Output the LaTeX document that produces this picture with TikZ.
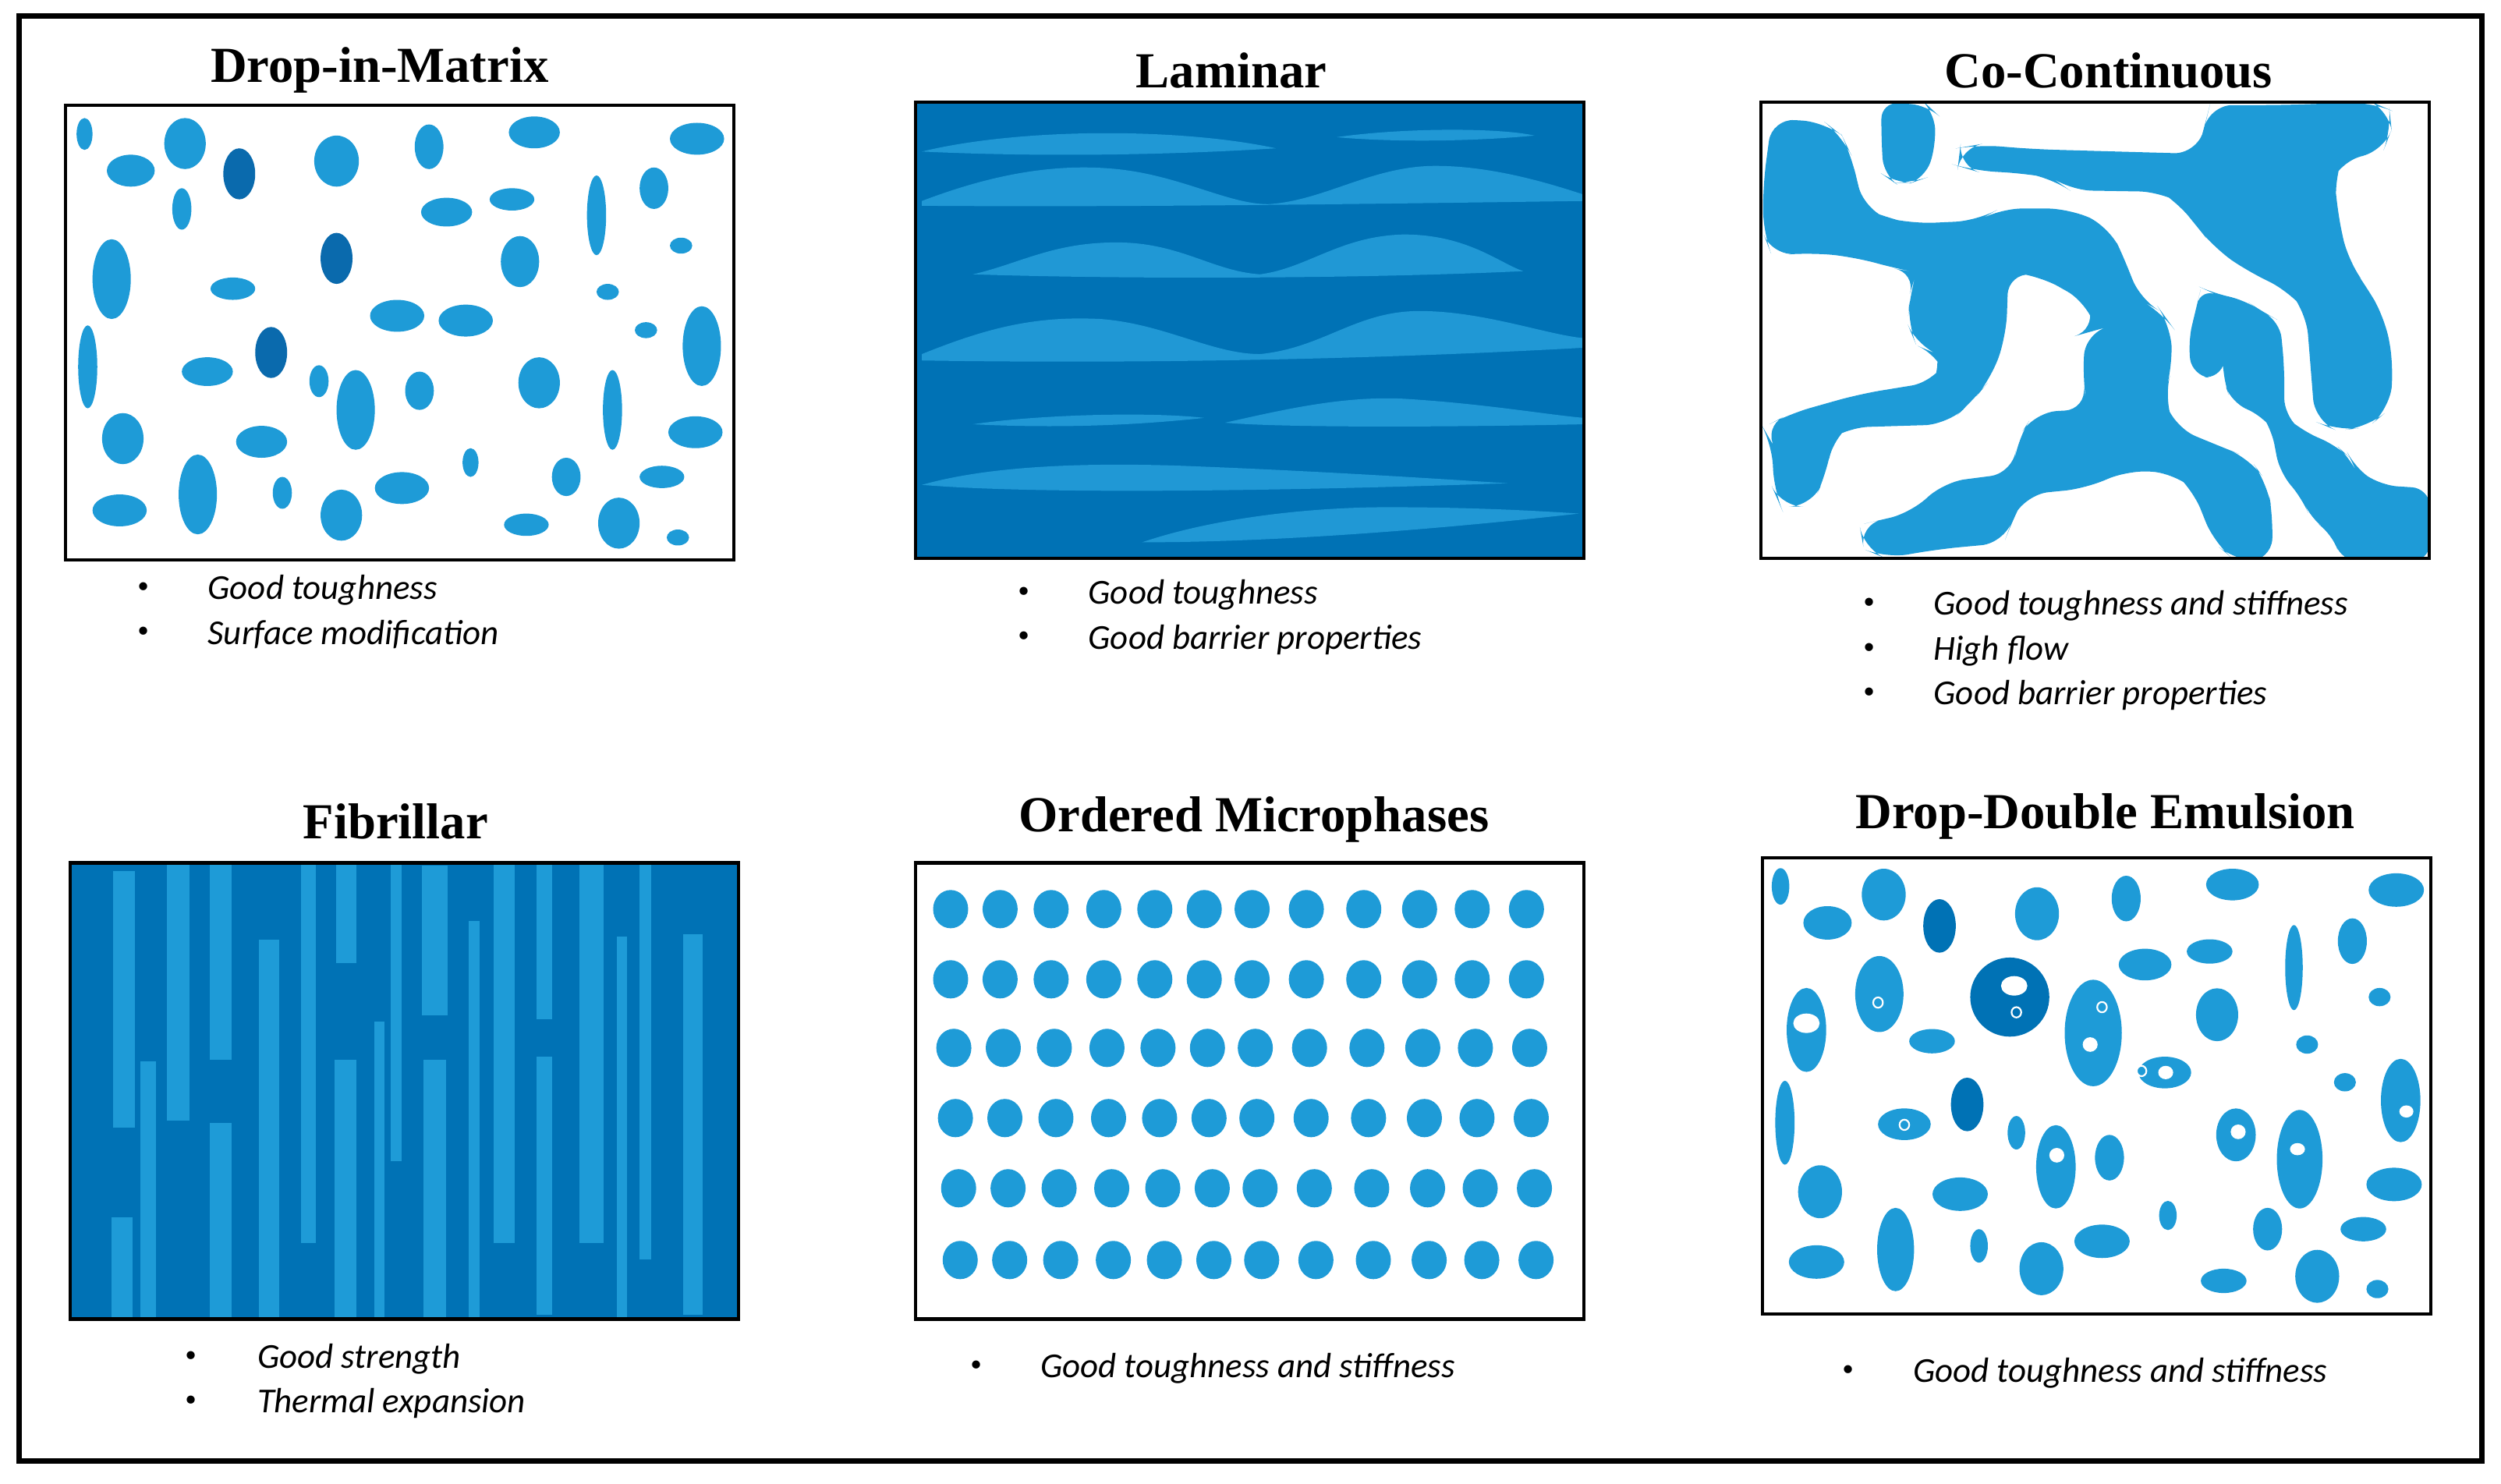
\documentclass[tikz,border=0pt]{standalone}
\usepackage{fontspec}
\setmainfont{Liberation Serif}
\newfontfamily\bulletfont{Carlito}
\definecolor{lb}{HTML}{1E9BD7}
\definecolor{db}{HTML}{0A6AAD}
\definecolor{bg}{HTML}{0072B5}
\definecolor{lam}{HTML}{2098D5}
\begin{document}
\begin{tikzpicture}[x=0.02cm,y=-0.02cm,
  title/.style={font=\fontsize{18}{21}\selectfont\bfseries},
  btxt/.style={font=\bulletfont\fontsize{12.5}{15}\selectfont\itshape,anchor=west,inner sep=0},
  bul/.style={font=\fontsize{12}{14}\selectfont,inner sep=0},
  panel/.style={draw=black,line width=0.04cm},
  drop/.style={fill=lb,draw=lb!85!black,line width=0.2pt},
  ddrop/.style={fill=db,draw=db},
  ring/.style={draw=white,line width=0.7pt,fill=lb},
  hole/.style={fill=white}]
\useasboundingbox (0,0) rectangle (1568,930);
\draw[line width=0.06cm] (12,10) rectangle (1556,916);

% ---------- Drop-in-Matrix
\node[title] (t1) at (238,44) {Drop-in-Matrix};
\foreach \x/\y/\a/\b in {53/84/5/10,82/107/15/10,116/90/13/16,211/101/14/16,269/92/9/14,335/83/16/10,437/87/17/10,114/131/6/13,280/133/16/9,321/125/14/7,374/135/6/25,410/118/9/13,427/154/7/5,70/175/12/25,146/181/14/7,326/164/12/16,381/183/7/5,249/198/17/10,292/201/17/10,405/207/7/5,440/217/12/25,55/230/6/26,130/233/16/9,200/239/6/10,223/257/12/25,263/245/9/12,338/240/13/16,384/257/6/25,77/275/13/16,164/277/16/10,436/271/17/10,295/290/5/9,355/299/9/12,124/310/12/25,177/309/6/10,252/306/17/10,415/299/14/7,75/320/17/10,214/323/13/16,330/329/14/7,388/328/13/16,425/337/7/5}
  \fill[lb] (\x,\y) ellipse [x radius=\a,y radius=\b];
\foreach \x/\y/\a/\b in {150/109/10/16,211/162/10/16,170/221/10/16}
  \fill[db] (\x,\y) ellipse [x radius=\a,y radius=\b];
\draw[panel] (41,66) rectangle (460,351);
\node[bul] (b11) at (90,370) {\textbullet};
\node[btxt] (x11) at (130,370) {Good toughness};
\node[bul] (b12) at (90,398) {\textbullet};
\node[btxt] (x12) at (130,398) {Surface modification};

% ---------- Laminar
\node[title] (t2) at (772,44) {Laminar};
\fill[bg] (574,64) rectangle (993,350);
\begin{scope}
\clip (574,64) rectangle (993,350);
\fill[lam] (578,95) .. controls (640,80) and (740,80) .. (800,93) .. controls (720,98) and (640,98) .. cycle;
\fill[lam] (838,86) .. controls (880,80) and (940,80) .. (962,85) .. controls (920,89) and (870,89) .. cycle;
\fill[lam] (578,126) .. controls (620,110) and (660,102) .. (700,106) .. controls (740,110) and (770,128) .. (795,128) .. controls (830,126) and (860,104) .. (900,104) .. controls (940,104) and (980,118) .. (993,122) -- (993,126) .. controls (850,128) and (700,130) .. (578,129) -- cycle;
\fill[lam] (610,172) .. controls (640,165) and (660,152) .. (700,152) .. controls (740,152) and (760,170) .. (790,172) .. controls (820,168) and (840,148) .. (880,147) .. controls (920,147) and (940,165) .. (955,170) .. controls (850,175) and (700,175) .. cycle;
\fill[lam] (578,222) .. controls (620,205) and (650,198) .. (690,200) .. controls (730,203) and (760,222) .. (790,222) .. controls (830,218) and (850,195) .. (890,195) .. controls (930,195) and (970,210) .. (993,212) -- (993,218) .. controls (850,226) and (700,228) .. (578,226) -- cycle;
\fill[lam] (610,266) .. controls (650,260) and (720,258) .. (755,262) .. controls (700,268) and (650,268) .. cycle;
\fill[lam] (768,265) .. controls (800,258) and (840,248) .. (880,250) .. controls (930,253) and (970,260) .. (993,262) -- (993,266) .. controls (900,268) and (800,268) .. cycle;
\fill[lam] (578,304) .. controls (620,292) and (680,290) .. (740,292) .. controls (820,295) and (900,300) .. (945,303) .. controls (800,308) and (650,310) .. cycle;
\fill[lam] (716,340) .. controls (760,325) and (820,318) .. (870,318) .. controls (920,318) and (960,320) .. (990,322) .. controls (900,332) and (800,340) .. cycle;
\end{scope}
\draw[panel] (574,64) rectangle (993,350);
\node[bul] (b21) at (642,373) {\textbullet};
\node[btxt] (x21) at (682,373) {Good toughness};
\node[bul] (b22) at (642,401) {\textbullet};
\node[btxt] (x22) at (682,401) {Good barrier properties};

% ---------- Co-Continuous
\node[title] (t3) at (1322,44) {Co-Continuous};
\begin{scope}
\clip (1104,64) rectangle (1523,350);
\begin{scope}[shift={(1104,64)}]
\begin{scope}[x=0.005496cm,y=-0.003814cm,shift={(-15,-30)}]
\fill[lb,rounded corners=6] (290,30)--(395,40)--(410,60)--(415,170)--(390,280)--(360,295)--(320,295)--(295,270)--(290,150)--cycle;
\fill[lb,rounded corners=8] (40,85)--(160,95)--(200,140)--(220,200)--(250,380)--(300,410)--(360,430)--(510,420)--(560,380)--(720,380)--(810,440)--(850,560)--(880,680)--(930,720)--(950,760)--(955,900)--(935,1000)--(960,1100)--(1060,1160)--(1130,1200)--(1170,1280)--(1185,1400)--(1180,1540)--(1100,1540)--(1050,1480)--(1000,1300)--(960,1250)--(850,1240)--(760,1300)--(620,1320)--(590,1400)--(570,1480)--(420,1500)--(300,1530)--(250,1500)--(240,1420)--(300,1400)--(360,1380)--(430,1280)--(590,1250)--(600,1140)--(640,1050)--(760,1040)--(750,950)--(755,790)--(780,780)--(760,690)--(650,600)--(580,590)--(575,800)--(540,940)--(500,1010)--(440,1090)--(210,1100)--(180,1130)--(165,1250)--(130,1360)--(60,1360)--(45,1310)--(40,1150)--(20,1100)--(80,1055)--(240,990)--(410,950)--(430,900)--(420,860)--(370,830)--(350,760)--(355,660)--(370,590)--(330,580)--(230,540)--(130,525)--(40,535)--(20,460)--(20,300)--cycle;
\fill[lb,rounded corners=8] (470,180)--(510,170)--(640,185)--(1010,200)--(1030,100)--(1040,40)--(1200,40)--(1410,30)--(1450,55)--(1455,120)--(1435,195)--(1340,220)--(1325,270)--(1330,380)--(1355,550)--(1390,620)--(1440,740)--(1460,900)--(1450,1040)--(1400,1100)--(1330,1110)--(1280,1080)--(1270,900)--(1260,720)--(1220,650)--(1130,590)--(1050,510)--(1000,420)--(960,350)--(930,325)--(720,320)--(680,280)--(620,265)--(500,255)--(465,240)--cycle;
\fill[lb,rounded corners=6] (1020,640)--(1050,660)--(1120,680)--(1160,720)--(1200,750)--(1210,900)--(1210,1060)--(1250,1110)--(1330,1160)--(1360,1200)--(1370,1230)--(1430,1290)--(1540,1300)--(1545,1400)--(1540,1540)--(1340,1540)--(1320,1450)--(1270,1400)--(1250,1330)--(1200,1250)--(1180,1100)--(1160,1060)--(1090,1020)--(1070,940)--(1070,850)--(1100,820)--(1080,830)--(1065,940)--(1000,930)--(990,820)--(1010,700)--cycle;
\end{scope}
\end{scope}
\end{scope}
\draw[panel] (1104,64) rectangle (1523,350);
\node[bul] (b31) at (1172,380) {\textbullet};
\node[btxt] (x31) at (1212,380) {Good toughness and stiffness};
\node[bul] (b32) at (1172,408) {\textbullet};
\node[btxt] (x32) at (1212,408) {High flow};
\node[bul] (b33) at (1172,436) {\textbullet};
\node[btxt] (x33) at (1212,436) {Good barrier properties};

% ---------- Fibrillar
\node[title] (t4) at (248,515) {Fibrillar};
\fill[bg] (44,541) rectangle (463,827);
\begin{scope}
\clip (44,541) rectangle (463,827);
\begin{scope}[shift={(44,541)}]
\begin{scope}[x=0.005506cm,y=-0.003814cm,shift={(-18,-35)}]
\foreach \a/\b/\c/\d in {115/62/165/905,238/35/290/882,335/35/385/683,448/287/493/1540,543/35/578/1285,623/35/670/365,747/35/772/1015,818/45/878/535,983/35/1030/1285,1080/35/1115/550,1177/35/1232/1285,1315/25/1340/1340,178/688/213/1540,335/890/385/1540,113/1200/160/1530,620/682/670/1530,710/558/733/1540,822/682/873/1530,925/225/950/1530,1080/673/1115/1520,1262/278/1285/1540,1413/270/1458/1520}
  \fill[lb] (\a,\b) rectangle (\c,\d);
\end{scope}
\end{scope}
\end{scope}
\draw[panel] (44,541) rectangle (463,827);
\node[bul] (b41) at (120,852) {\textbullet};
\node[btxt] (x41) at (161,852) {Good strength};
\node[bul] (b42) at (120,880) {\textbullet};
\node[btxt] (x42) at (161,880) {Thermal expansion};

% ---------- Ordered Microphases
\node[title] (t5) at (786,514) {Ordered Microphases};
\foreach \y/\o in {570/0,614/0,657/2,701/3,745/5,790/6}
  \foreach \x in {596,627,659,692,724,755,785,819,855,890,923,957}
    \fill[lb] (\x+\o,\y) ellipse [x radius=11,y radius=12];
\draw[panel] (574,541) rectangle (993,827);
\node[bul] (b51) at (612,858) {\textbullet};
\node[btxt] (x51) at (652,858) {Good toughness and stiffness};

% ---------- Drop-Double Emulsion
\node[title] (t6) at (1320,512) {Drop-Double Emulsion};
\begin{scope}[shift={(1105,538)}]
\begin{scope}[x=0.005502cm,y=-0.003814cm,shift={(-22,-35)}]
\foreach \x/\y/\a/\b in {63/128/20/60,170/248/55/55,298/155/50/85,647/218/50/87,850/168/33/75,1092/122/60/52,1465/140/63/55,288/482/55/125,122/600/45/138,408/637/52/40,775/610/65/175,893/385/60/52,1040/342/52/40,1232/395/20/140,1365/308/33/75,1057/550/48/87,1427/492/25/30,1262/648/25/30,938/740/60/52,1348/772/25/30,1475/832/45/137,73/905/22/138,345/910/60/52,600/938/20/55,690/1050/45/137,812/1020/33/75,1100/945/45/87,1245/1025/52/162,1460/1108/63/55,153/1132/50/87,472/1140/63/55,325/1322/42/137,515/1310/20/55,657/1385/50/87,795/1295/63/55,945/1210/20/48,1172/1255/33/70,1390/1255/52/40,145/1363/63/55,1072/1425/52/40,1285/1410/50/87,1422/1452/25/30}
  \fill[lb] (\x,\y) ellipse [x radius=\a,y radius=\b];
\foreach \x/\y/\a/\b in {425/258/37/88,585/492/90/130,488/845/37/88}
  \fill[bg] (\x,\y) ellipse [x radius=\a,y radius=\b];
\foreach \x/\y/\a/\b in {122/578/30/32,595/455/30/32,768/648/17/24,940/740/17/22,1488/868/16/20,692/1012/17/24,1105/935/17/24,1240/992/17/20}
  \fill[white] (\x,\y) ellipse [x radius=\a,y radius=\b];
\foreach \x/\y/\f in {285/510/lb,600/542/bg,795/525/lb,885/735/lb,345/912/lb}
  \draw[draw=white,line width=0.6pt,fill=\f] (\x,\y) ellipse [x radius=11,y radius=17];
\end{scope}
\end{scope}
\draw[panel] (1105,538) rectangle (1524,824);
\node[bul] (b61) at (1159,861) {\textbullet};
\node[btxt] (x61) at (1199,861) {Good toughness and stiffness};
\end{tikzpicture}
\end{document}
